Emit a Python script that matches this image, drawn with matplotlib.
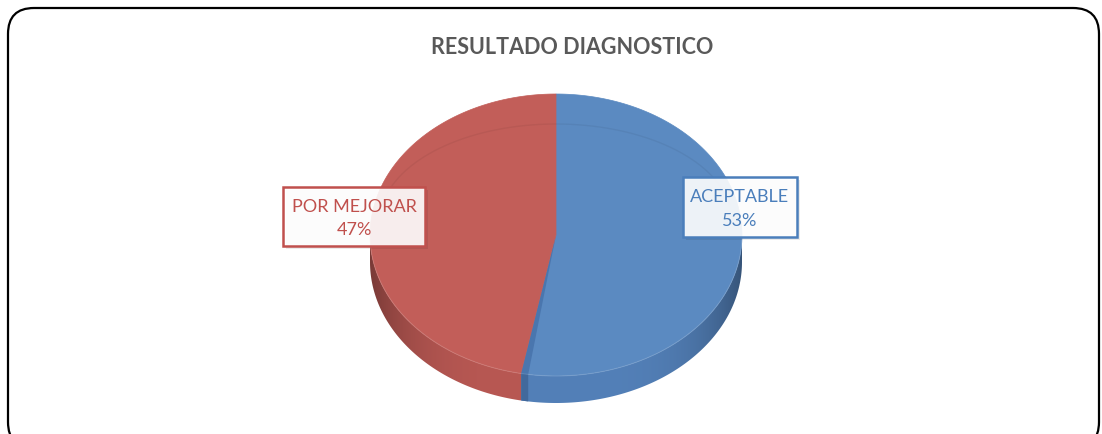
import numpy as np
import matplotlib.pyplot as plt
from matplotlib.patches import Polygon, FancyBboxPatch, Rectangle
from matplotlib.colors import to_rgb

# data
categories = ['ACEPTABLE', 'POR MEJORAR']
values = [53, 47]
top_colors = ['#5B8AC1', '#C25E59']
side_colors = ['#5380B8', '#B85853']
text_colors = ['#4A7EBB', '#C0504D']
title = 'RESULTADO DIAGNOSTICO'

plt.rcParams['font.family'] = ['Lato', 'DejaVu Sans']

W, H = 1102, 435
fig = plt.figure(figsize=(W / 100, H / 100), dpi=100)
ax = fig.add_axes([0, 0, 1, 1])
ax.set_xlim(0, W)
ax.set_ylim(H, 0)
ax.axis('off')

# outer rounded frame
ax.add_patch(FancyBboxPatch((8, 9), 1091, 440, boxstyle='round,pad=0,rounding_size=26',
                            fc='white', ec='black', lw=1.6, zorder=0))

# pie geometry (pixels), tilted view
cx, cy, rx, ry, depth = 556, 236, 186, 141, 27


def pt(t, dy=0.0):
    t = np.radians(t)
    return cx + rx * np.sin(t), cy - ry * np.cos(t) + dy


fracs = np.array(values) / sum(values)
edges = np.concatenate([[0], np.cumsum(fracs) * 360])

# side wall (front half only), shaded darker toward the edges
gx = np.linspace(cx - rx, cx + rx, 400)
shade = 1 - 0.34 * np.abs((gx - cx) / rx) ** 4
for i in range(len(values)):
    a0 = max(edges[i], 90)
    a1 = min(edges[i + 1], 270)
    if a1 <= a0:
        continue
    ts = np.linspace(a0, a1, 200)
    xs, ys = pt(ts)
    verts = list(zip(xs, ys)) + list(zip(xs[::-1], ys[::-1] + depth))
    poly = Polygon(verts, closed=True, fc='none', ec='none', zorder=2)
    ax.add_patch(poly)
    base = np.array(to_rgb(side_colors[i]))
    img = np.clip(shade[None, :, None] * base[None, None, :], 0, 1)
    im = ax.imshow(img, extent=(cx - rx, cx + rx, cy + ry + depth + 2, cy - 10),
                   aspect='auto', interpolation='bilinear', zorder=2)
    im.set_clip_path(poly)

# top faces
for i in range(len(values)):
    ts = np.linspace(edges[i], edges[i + 1], 200)
    xs, ys = pt(ts)
    verts = [(cx, cy)] + list(zip(xs, ys))
    ax.add_patch(Polygon(verts, closed=True, fc=top_colors[i], ec=top_colors[i], lw=0.5, zorder=3))

# darker bevel strip along the slice boundary
b = edges[1]
ts = np.linspace(b - 2.2, b, 20)
xs, ys = pt(ts)
ax.add_patch(Polygon([(cx, cy)] + list(zip(xs, ys)), closed=True,
                     fc='#4A76AE', ec='none', zorder=4))
xb, yb = pt(b)
xb2, yb2 = pt(b - 2.2)
ax.add_patch(Polygon([(xb2, yb2), (xb, yb), (xb, yb + depth), (xb2, yb2 + depth)],
                     closed=True, fc='#42699C', ec='none', zorder=4))

# faint inner bevel ring
tt = np.linspace(-80, 80, 200)
ax.plot(cx + 176 * np.sin(np.radians(tt)), 222 - 97 * np.cos(np.radians(tt)),
        color='#000000', alpha=0.05, lw=1, zorder=4)
# faint rim line between top and side
tt = np.linspace(90, 270, 200)
xr, yr = pt(tt)
ax.plot(xr, yr, color='white', alpha=0.12, lw=0.8, zorder=4)

# title
ax.text(572, 47, title, ha='center', va='center', fontsize=15.5, fontweight='bold',
        color='#595959', zorder=6)

# data labels
label_boxes = [(683, 178, 114, 60), (283, 188, 142, 59)]
for i, (x, y, w, h) in enumerate(label_boxes):
    ax.add_patch(Rectangle((x + 3, y + 3), w, h, fc='#000000', alpha=0.08, ec='none', zorder=6))
    ax.add_patch(Rectangle((x, y), w, h, fc='white', alpha=0.9, ec='none', zorder=7))
    ax.add_patch(Rectangle((x, y), w, h, fc='none', ec=text_colors[i], lw=1.8, zorder=8))
    ax.text(x + w / 2, y + h / 2 + 1, f'{categories[i]}\n{values[i]}%', ha='center', va='center',
            fontsize=13, color=text_colors[i], linespacing=1.55, zorder=9)

fig.savefig('out.png', dpi=100)
